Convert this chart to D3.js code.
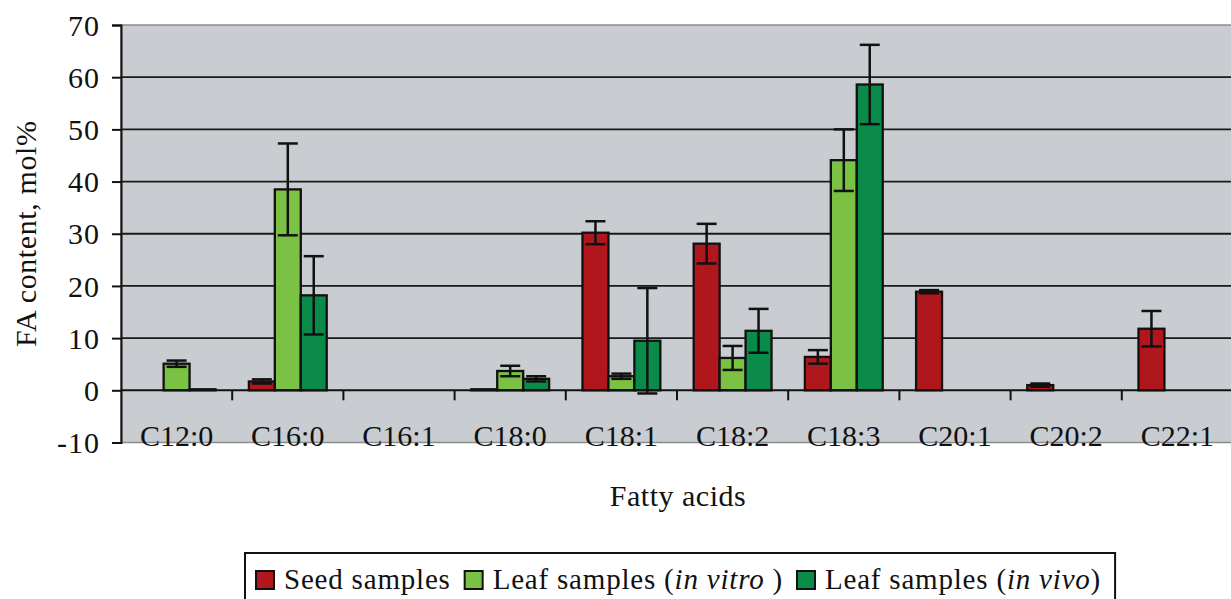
<!DOCTYPE html>
<html>
<head>
<meta charset="utf-8">
<script src="https://cdn.jsdelivr.net/npm/d3@7"></script>
<style>
  body { margin: 0; background: #fff; }
  svg text { font-family: "Liberation Serif", "DejaVu Serif", serif; fill: #111; }
</style>
</head>
<body>
<div id="chart"></div>
<script>
// Fatty acid categories and series values (mol%)
const categories = ["C12:0", "C16:0", "C16:1", "C18:0", "C18:1", "C18:2", "C18:3", "C20:1", "C20:2", "C22:1"];
const seriesNames = ["seed", "vitro", "vivo"];
const seed = [0, 1.7, 0, 0.2, 30.2, 28.1, 6.4, 18.9, 1.0, 11.8];
const seedErr = [0, 0.4, 0, 0, 2.2, 3.8, 1.3, 0.3, 0.3, 3.4];
const vitro = [5.1, 38.5, 0, 3.7, 2.7, 6.2, 44.1, 0, 0, 0];
const vitroErr = [0.6, 8.8, 0, 1.0, 0.5, 2.3, 5.9, 0, 0, 0];
const vivo = [0.2, 18.2, 0, 2.2, 9.5, 11.4, 58.6, 0, 0, 0];
const vivoErr = [0, 7.5, 0, 0.5, 10.1, 4.2, 7.6, 0, 0, 0];
const yTicks = [-10, 0, 10, 20, 30, 40, 50, 60, 70];

const colors = { seed: "#b0171d", vitro: "#7bc143", vivo: "#0b8b4a" };
const values = { seed: seed, vitro: vitro, vivo: vivo };
const errors = { seed: seedErr, vitro: vitroErr, vivo: vivoErr };

const width = 1231, height = 599;
const margin = { top: 25, right: -2, bottom: 156.5, left: 121 };
const serif = "'Liberation Serif', 'DejaVu Serif', serif";

const svg = d3.select("#chart").append("svg")
    .attr("width", width)
    .attr("height", height)
    .attr("font-family", serif);

// Scales
const x = d3.scaleBand()
    .domain(categories)
    .range([margin.left, width - margin.right]);
const xSub = d3.scaleBand()
    .domain(seriesNames)
    .range([x.bandwidth() * 0.15, x.bandwidth() * 0.85]);
const y = d3.scaleLinear()
    .domain([-10, 70])
    .range([height - margin.bottom, margin.top]);

// Plot background
svg.append("rect")
    .attr("x", margin.left)
    .attr("y", y(70))
    .attr("width", width - margin.right - margin.left)
    .attr("height", y(-10) - y(70))
    .attr("fill", "#c9ccd0")
    .attr("stroke", "#8a8d90")
    .attr("stroke-width", 1.5);

// Gridlines
svg.append("g")
    .selectAll("line")
    .data(yTicks.filter(d => d > 0 && d < 70))
    .join("line")
    .attr("x1", margin.left)
    .attr("x2", width)
    .attr("y1", d => y(d))
    .attr("y2", d => y(d))
    .attr("stroke", "#1a1a1a")
    .attr("stroke-width", 1.8);

// Y axis
const yAxis = svg.append("g")
    .attr("transform", `translate(${margin.left},0)`)
    .call(d3.axisLeft(y).tickValues(yTicks).tickSize(9).tickPadding(12).tickFormat(d => String(d)));
yAxis.attr("font-family", serif);
yAxis.select(".domain").attr("stroke", "#111").attr("stroke-width", 2);
yAxis.selectAll(".tick line").attr("stroke", "#111").attr("stroke-width", 2);
yAxis.selectAll(".tick text")
    .attr("font-size", 30)
    .attr("letter-spacing", 1)
    .attr("dy", "0.34em");

// Bars
const groups = svg.append("g")
    .selectAll("g")
    .data(categories)
    .join("g")
    .attr("transform", d => `translate(${x(d)},0)`);

groups.selectAll("rect")
    .data((c, i) => seriesNames.map(s => ({ s: s, v: values[s][i], e: errors[s][i] })))
    .join("rect")
    .attr("x", d => xSub(d.s))
    .attr("y", d => y(Math.max(d.v, 0)))
    .attr("width", xSub.bandwidth())
    .attr("height", d => Math.abs(y(d.v) - y(0)))
    .attr("fill", d => colors[d.s])
    .attr("stroke", "#111")
    .attr("stroke-width", 2.3);

// Error bars
const errs = groups.selectAll("g.err")
    .data((c, i) => seriesNames.map(s => ({ s: s, v: values[s][i], e: errors[s][i] })).filter(d => d.e > 0))
    .join("g")
    .attr("class", "err")
    .attr("stroke", "#111")
    .attr("stroke-width", 2.5);
const capW = 10;
errs.append("line")
    .attr("x1", d => xSub(d.s) + xSub.bandwidth() / 2)
    .attr("x2", d => xSub(d.s) + xSub.bandwidth() / 2)
    .attr("y1", d => y(d.v + d.e))
    .attr("y2", d => y(d.v - d.e));
errs.append("line")
    .attr("x1", d => xSub(d.s) + xSub.bandwidth() / 2 - capW)
    .attr("x2", d => xSub(d.s) + xSub.bandwidth() / 2 + capW)
    .attr("y1", d => y(d.v + d.e))
    .attr("y2", d => y(d.v + d.e));
errs.append("line")
    .attr("x1", d => xSub(d.s) + xSub.bandwidth() / 2 - capW)
    .attr("x2", d => xSub(d.s) + xSub.bandwidth() / 2 + capW)
    .attr("y1", d => y(d.v - d.e))
    .attr("y2", d => y(d.v - d.e));

// X axis at zero with ticks between categories
svg.append("line")
    .attr("x1", margin.left)
    .attr("x2", width)
    .attr("y1", y(0))
    .attr("y2", y(0))
    .attr("stroke", "#111")
    .attr("stroke-width", 2);
svg.append("g")
    .selectAll("line")
    .data(categories.slice(1))
    .join("line")
    .attr("x1", d => x(d))
    .attr("x2", d => x(d))
    .attr("y1", y(0))
    .attr("y2", y(0) + 10)
    .attr("stroke", "#111")
    .attr("stroke-width", 2);

// Category labels near plot bottom
svg.append("g")
    .selectAll("text")
    .data(categories)
    .join("text")
    .attr("x", d => x(d) + x.bandwidth() / 2)
    .attr("y", y(-10) + 3)
    .attr("text-anchor", "middle")
    .attr("font-size", 30)
    .text(d => d);

// Axis titles
svg.append("text")
    .attr("x", (margin.left + width) / 2 + 2)
    .attr("y", 506)
    .attr("text-anchor", "middle")
    .attr("font-size", 30)
    .attr("letter-spacing", 0.5)
    .text("Fatty acids");

svg.append("text")
    .attr("transform", `translate(36,${(y(70) + y(-10)) / 2}) rotate(-90)`)
    .attr("text-anchor", "middle")
    .attr("font-size", 30)
    .attr("letter-spacing", 0.6)
    .text("FA content, mol%");

// Legend
const legendItems = [
    { s: "seed", parts: [["Seed samples", false]] },
    { s: "vitro", parts: [["Leaf samples (", false], ["in vitro", true], [" )", false]] },
    { s: "vivo", parts: [["Leaf samples (", false], ["in vivo", true], [")", false]] }
];
const legend = svg.append("g");
const legendBox = legend.append("rect")
    .attr("y", 553)
    .attr("height", 60)
    .attr("fill", "#fff")
    .attr("stroke", "#111")
    .attr("stroke-width", 2);
let lx = 256;
legendItems.forEach(item => {
    legend.append("rect")
        .attr("x", lx)
        .attr("y", 571)
        .attr("width", 18)
        .attr("height", 18)
        .attr("fill", colors[item.s])
        .attr("stroke", "#111")
        .attr("stroke-width", 2);
    const t = legend.append("text")
        .attr("x", lx + 28)
        .attr("y", 589)
        .attr("font-size", 29)
        .attr("letter-spacing", 0.8);
    item.parts.forEach(p => {
        t.append("tspan")
            .attr("font-style", p[1] ? "italic" : "normal")
            .text(p[0]);
    });
    const b = t.node().getBBox();
    lx = b.x + b.width + 14;
});
legendBox.attr("x", 245).attr("width", lx - 245);
</script>
</body>
</html>
